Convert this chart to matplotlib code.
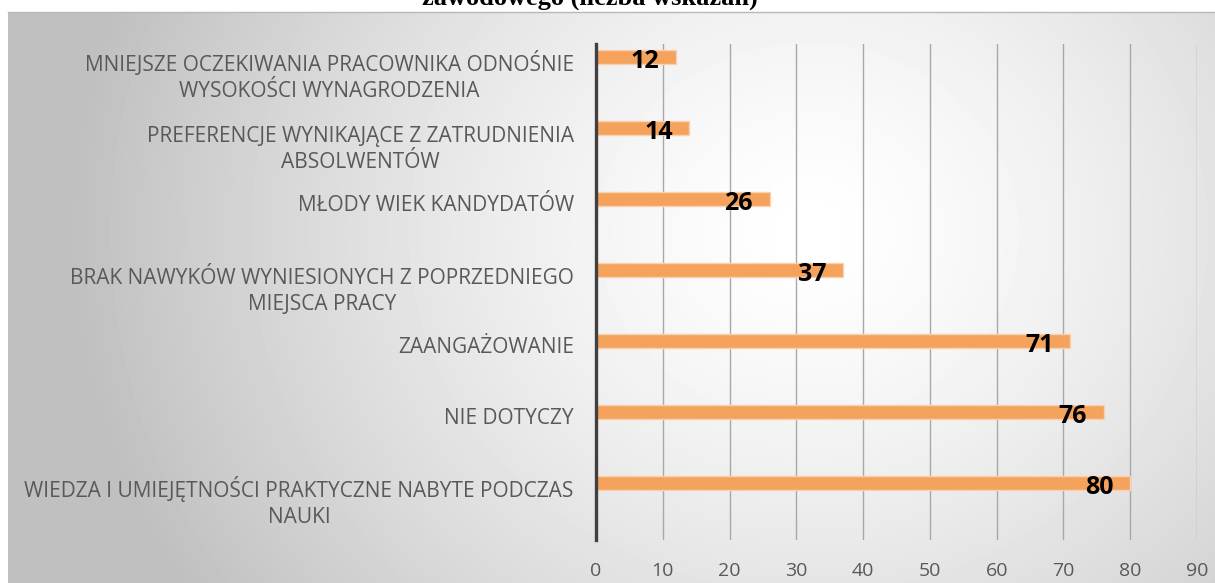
import numpy as np
import matplotlib.pyplot as plt

# data (bottom to top)
categories = [
    "WIEDZA I UMIEJĘTNOŚCI PRAKTYCZNE NABYTE PODCZAS\nNAUKI",
    "NIE DOTYCZY",
    "ZAANGAŻOWANIE",
    "BRAK NAWYKÓW WYNIESIONYCH Z POPRZEDNIEGO\nMIEJSCA PRACY",
    "MŁODY WIEK KANDYDATÓW",
    "PREFERENCJE WYNIKAJĄCE Z ZATRUDNIENIA\nABSOLWENTÓW",
    "MNIEJSZE OCZEKIWANIA PRACOWNIKA ODNOŚNIE\nWYSOKOŚCI WYNAGRODZENIA",
]
values = [80, 76, 71, 37, 26, 14, 12]
xticks = [0, 10, 20, 30, 40, 50, 60, 70, 80, 90]
title = "zawodowego (liczba wskazań)"

plt.rcParams['font.family'] = ['Open Sans', 'DejaVu Sans']

W, H = 1215, 583
fig = plt.figure(figsize=(W / 100, H / 100), dpi=100)

# radial gradient background of the chart area
bg = fig.add_axes([8 / W, 0, 1 - 8 / W, 1 - 12 / H], zorder=-10)
yy, xx = np.mgrid[0:571, 0:1207]
cx, cy = 800, 220
r = np.sqrt(((xx - cx) / 1.0) ** 2 + ((yy - cy) / 0.9) ** 2)
g = np.clip(r / 740, 0, 1)
shade = 1.0 - 0.25 * g ** 1.4
bg.imshow(shade, cmap='gray', vmin=0, vmax=1, aspect='auto',
          extent=[0, 1, 0, 1], interpolation='bilinear')
bg.set_xlim(0, 1)
bg.set_ylim(0, 1)
bg.axis('off')
fig.add_artist(plt.Line2D([8 / W, 1], [1 - 12 / H, 1 - 12 / H],
                          color='#b8b8b8', lw=1))

ax = fig.add_axes([596 / W, 1 - 540 / H, (1197 - 596) / W, (540 - 44) / H])
ax.patch.set_alpha(0)
y = np.arange(len(values))
ax.barh(y, values, height=0.2, color='#F5A25D', edgecolor='#FAD1AE',
        linewidth=1, zorder=3)
ax.set_xlim(0, 90)
ax.set_ylim(-0.803, 6.183)
ax.set_xticks(xticks)
ax.set_xticklabels([str(t) for t in xticks])
ax.tick_params(axis='x', length=0, pad=16, labelsize=14, labelcolor='#595959')
ax.set_yticks([])
ax.grid(axis='x', color='#a8a8a8', lw=1, zorder=1)
for s in ['top', 'right', 'bottom']:
    ax.spines[s].set_visible(False)
ax.spines['left'].set_color('#404040')
ax.spines['left'].set_linewidth(2.4)
ax.spines['left'].set_zorder(4)

line_pts = 20.0
for i, (c, v) in enumerate(zip(categories, values)):
    n = c.count("\n")
    ax.annotate(c, (0, i), xytext=(-16, -9 - n * line_pts),
                textcoords='offset points',
                ha='right', va='baseline', multialignment='center',
                fontsize=15, color='#595959', linespacing=1.36)
    ax.annotate(str(v), (v, i), xytext=(-12, -3), textcoords='offset points',
                ha='right', va='center', fontsize=18, fontweight='bold',
                color='black', zorder=5)

fig.text(590 / W, 1 - 5 / H, title, ha='center', va='baseline',
         fontsize=19, fontweight='bold', family='Liberation Serif')

fig.savefig('out.png', dpi=100)
